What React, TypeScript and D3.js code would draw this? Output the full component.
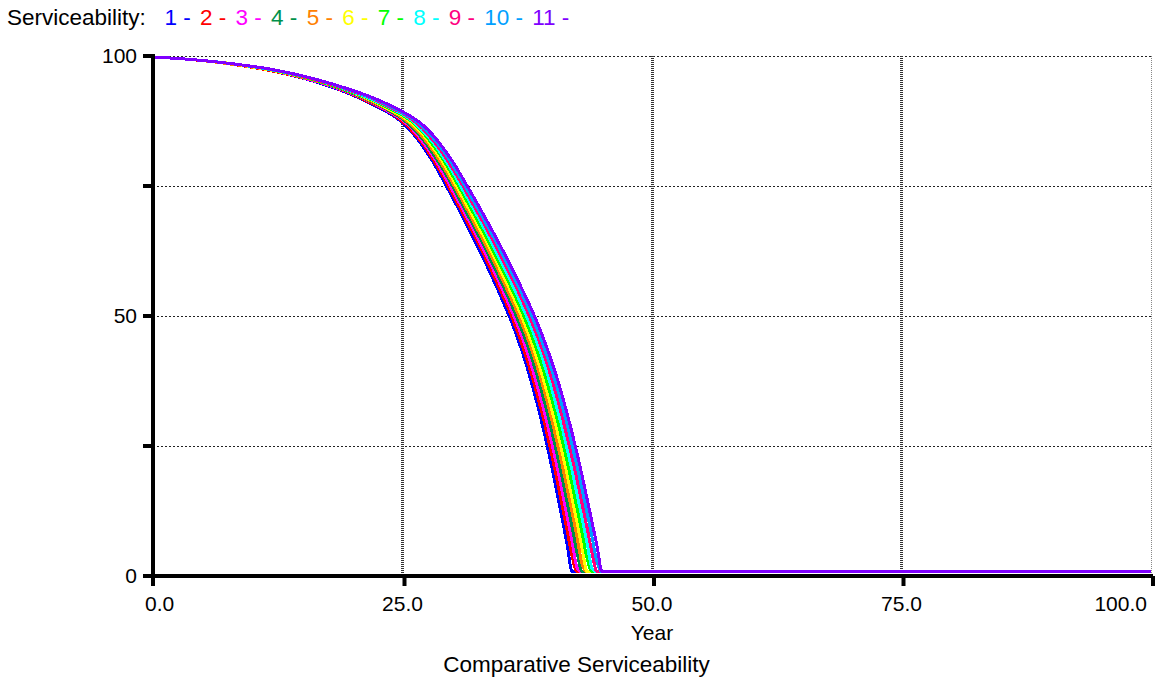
import React from 'react'
import * as d3 from 'd3'

// sample years shared by every run (denser where the curves fall off)
const years = [0, 4, 8, 12, 16, 20, 22, 24, 25, 26, 27, 28, 29, 30, 31, 32, 33, 34, 35, 36, 37, 38, 39, 40, 40.5, 41, 41.5, 42, 42.5, 43, 43.5, 44, 44.5, 45, 46, 100]

const run1 = [99.8, 99.3, 98.4, 97.1, 95.2, 92.5, 90.7, 88.6, 87.2, 85.2, 82.7, 79.8, 76.4, 72.8, 69.2, 65.4, 61.5, 57.4, 53.1, 48.5, 43.1, 36.7, 29.2, 20.6, 15.8, 11.0, 6.0, 0.8, 0.8, 0.8, 0.8, 0.8, 0.8, 0.8, 0.8, 0.8]
const run2 = [99.8, 99.3, 98.4, 97.1, 95.3, 92.6, 90.8, 88.8, 87.4, 85.5, 83.2, 80.3, 77.1, 73.5, 69.9, 66.2, 62.4, 58.3, 54.1, 49.6, 44.4, 38.3, 31.2, 22.9, 18.4, 13.6, 8.8, 3.7, 0.8, 0.8, 0.8, 0.8, 0.8, 0.8, 0.8, 0.8]
const run3 = [99.8, 99.3, 98.4, 97.2, 95.3, 92.7, 91.0, 88.9, 87.7, 85.9, 83.6, 80.9, 77.7, 74.2, 70.7, 67.0, 63.2, 59.3, 55.1, 50.7, 45.8, 39.9, 33.1, 25.2, 20.9, 16.3, 11.5, 6.6, 1.5, 0.8, 0.8, 0.8, 0.8, 0.8, 0.8, 0.8]
const run4 = [99.8, 99.3, 98.4, 97.2, 95.4, 92.8, 91.1, 89.1, 87.9, 86.2, 84.1, 81.4, 78.4, 75.0, 71.4, 67.8, 64.1, 60.2, 56.1, 51.8, 47.1, 41.6, 35.1, 27.5, 23.3, 18.9, 14.2, 9.4, 4.4, 0.8, 0.8, 0.8, 0.8, 0.8, 0.8, 0.8]
const run5 = [99.8, 99.3, 98.4, 97.2, 95.4, 92.9, 91.2, 89.3, 88.1, 86.6, 84.5, 82.0, 79.0, 75.7, 72.2, 68.6, 64.9, 61.1, 57.1, 52.9, 48.4, 43.2, 37.0, 29.7, 25.6, 21.4, 16.8, 12.2, 7.3, 2.3, 0.8, 0.8, 0.8, 0.8, 0.8, 0.8]
const run6 = [99.8, 99.3, 98.5, 97.2, 95.5, 93.0, 91.4, 89.4, 88.4, 86.9, 85.0, 82.5, 79.7, 76.4, 72.9, 69.4, 65.8, 62.0, 58.1, 54.0, 49.6, 44.5, 38.6, 31.7, 27.9, 23.8, 19.5, 14.8, 10.2, 5.3, 0.8, 0.8, 0.8, 0.8, 0.8, 0.8]
const run7 = [99.8, 99.3, 98.5, 97.3, 95.5, 93.0, 91.5, 89.6, 88.6, 87.3, 85.4, 83.0, 80.3, 77.1, 73.7, 70.2, 66.6, 62.9, 59.0, 55.0, 50.7, 45.9, 40.3, 33.7, 30.1, 26.1, 22.0, 17.5, 12.9, 8.2, 3.3, 0.8, 0.8, 0.8, 0.8, 0.8]
const run8 = [99.8, 99.3, 98.5, 97.3, 95.6, 93.1, 91.6, 89.8, 88.8, 87.5, 85.7, 83.5, 80.8, 77.8, 74.4, 71.0, 67.5, 63.8, 60.0, 56.0, 51.8, 47.3, 42.0, 35.7, 32.1, 28.5, 24.4, 20.2, 15.6, 11.1, 6.3, 1.4, 0.8, 0.8, 0.8, 0.8]
const run9 = [99.8, 99.3, 98.5, 97.3, 95.6, 93.2, 91.8, 89.9, 89.0, 87.7, 86.1, 83.9, 81.4, 78.4, 75.2, 71.7, 68.3, 64.7, 61.0, 57.1, 53.0, 48.6, 43.5, 37.6, 34.2, 30.6, 26.7, 22.7, 18.4, 13.8, 9.2, 4.4, 0.8, 0.8, 0.8, 0.8]
const run10 = [99.8, 99.3, 98.5, 97.3, 95.7, 93.3, 91.9, 90.1, 89.1, 88.0, 86.4, 84.4, 82.0, 79.1, 75.9, 72.5, 69.1, 65.6, 61.9, 58.1, 54.1, 49.8, 44.9, 39.3, 36.2, 32.7, 29.1, 25.1, 21.0, 16.6, 12.1, 7.4, 2.6, 0.8, 0.8, 0.8]
const run11 = [99.8, 99.3, 98.5, 97.4, 95.7, 93.4, 92.0, 90.3, 89.3, 88.2, 86.8, 84.9, 82.5, 79.8, 76.6, 73.3, 69.9, 66.4, 62.8, 59.0, 55.1, 51.0, 46.3, 41.0, 38.0, 34.7, 31.2, 27.5, 23.5, 19.3, 14.8, 10.3, 5.7, 0.8, 0.8, 0.8]

const runNames = ['1', '2', '3', '4', '5', '6', '7', '8', '9', '10', '11']
const runColors = ['#0000ff', '#ff0000', '#ff00ff', '#00904a', '#ff8000', '#ffff00', '#00ff00', '#00ffff', '#ff0080', '#00a0ff', '#8000ff']
const runs = [run1, run2, run3, run4, run5, run6, run7, run8, run9, run10, run11]

const xTicks = [0, 25, 50, 75, 100]
const xTickLabels = ['0.0', '25.0', '50.0', '75.0', '100.0']
const yTicks = [0, 25, 50, 75, 100]
const yLabelTicks = [0, 50, 100]

const width = 1159
const height = 682
const margin = {top: 56, right: 8, bottom: 106, left: 153}
const font = '"Liberation Sans", Arial, sans-serif'

export default function App() {
  const x = d3.scaleLinear().domain([0, 100]).range([margin.left, width - margin.right])
  const y = d3.scaleLinear().domain([0, 100]).range([height - margin.bottom, margin.top])

  const line = d3
    .line<number>()
    .x((d, i) => x(years[i]))
    .y(d => y(d))
    .curve(d3.curveMonotoneX)

  const x0 = x(0)
  const x1 = x(100)
  const y0 = y(0)
  const y1 = y(100)

  return (
    <svg
      width={width}
      height={height}
      style={{position: 'absolute', left: 0, top: 0, background: '#fff'}}
      fontFamily={font}
    >
      {/* legend */}
      <text x={7} y={25} fontSize={22.5} style={{whiteSpace: 'pre'}}>
        <tspan fill="#000">Serviceability:   </tspan>
        {runNames.map((n, i) => (
          <tspan key={n} dx={i === 0 ? 0 : 3} fill={runColors[i]}>{n + ' - '}</tspan>
        ))}
      </text>

      {/* grid */}
      {yTicks.filter(t => t > 0).map(t => (
        <line key={'gy' + t} x1={x0} x2={x1} y1={y(t)} y2={y(t)}
          stroke="#222" strokeWidth={1} strokeDasharray="2,2" shapeRendering="crispEdges" />
      ))}
      {xTicks.filter(t => t > 0).map(t => (
        <line key={'gx' + t} x1={x(t)} x2={x(t)} y1={y1} y2={y0}
          stroke={t === 100 ? '#888' : '#333'} strokeWidth={t === 100 ? 1 : 3} strokeDasharray="1,1" shapeRendering="crispEdges" />
      ))}

      {/* runs */}
      {runs.map((r, i) => (
        <path key={i} d={line(r) || ''} fill="none" stroke={runColors[i]} strokeWidth={3}
          strokeLinejoin="miter" shapeRendering="crispEdges" />
      ))}

      {/* axes */}
      <line x1={x0} x2={x0} y1={y1 - 2} y2={y0 + 10} stroke="#000" strokeWidth={4} />
      <line x1={x0 - 10} x2={x1 + 2} y1={y0} y2={y0} stroke="#000" strokeWidth={4} />
      {yTicks.map(t => (
        <line key={'ty' + t} x1={x0 - 10} x2={x0} y1={y(t)} y2={y(t)} stroke="#000" strokeWidth={4} />
      ))}
      {xTicks.filter(t => t > 0).map(t => (
        <line key={'tx' + t} x1={x(t) + 2} x2={x(t) + 2} y1={y0} y2={y0 + 10} stroke="#000" strokeWidth={4} />
      ))}

      {/* tick labels */}
      {yLabelTicks.map(t => (
        <text key={'ly' + t} x={x0 - 16} y={y(t)} dy="0.35em" textAnchor="end" fontSize={21}>{t}</text>
      ))}
      {xTicks.map((t, i) => (
        <text key={'lx' + t}
          x={i === 0 ? x0 - 8 : i === xTicks.length - 1 ? x1 - 4 : x(t)}
          y={611}
          textAnchor={i === 0 ? 'start' : i === xTicks.length - 1 ? 'end' : 'middle'}
          fontSize={21}>{xTickLabels[i]}</text>
      ))}

      <text x={x(50)} y={640} textAnchor="middle" fontSize={21}>Year</text>
      <text x={width / 2 - 3} y={672} textAnchor="middle" fontSize={22.5}>Comparative Serviceability</text>
    </svg>
  )
}
